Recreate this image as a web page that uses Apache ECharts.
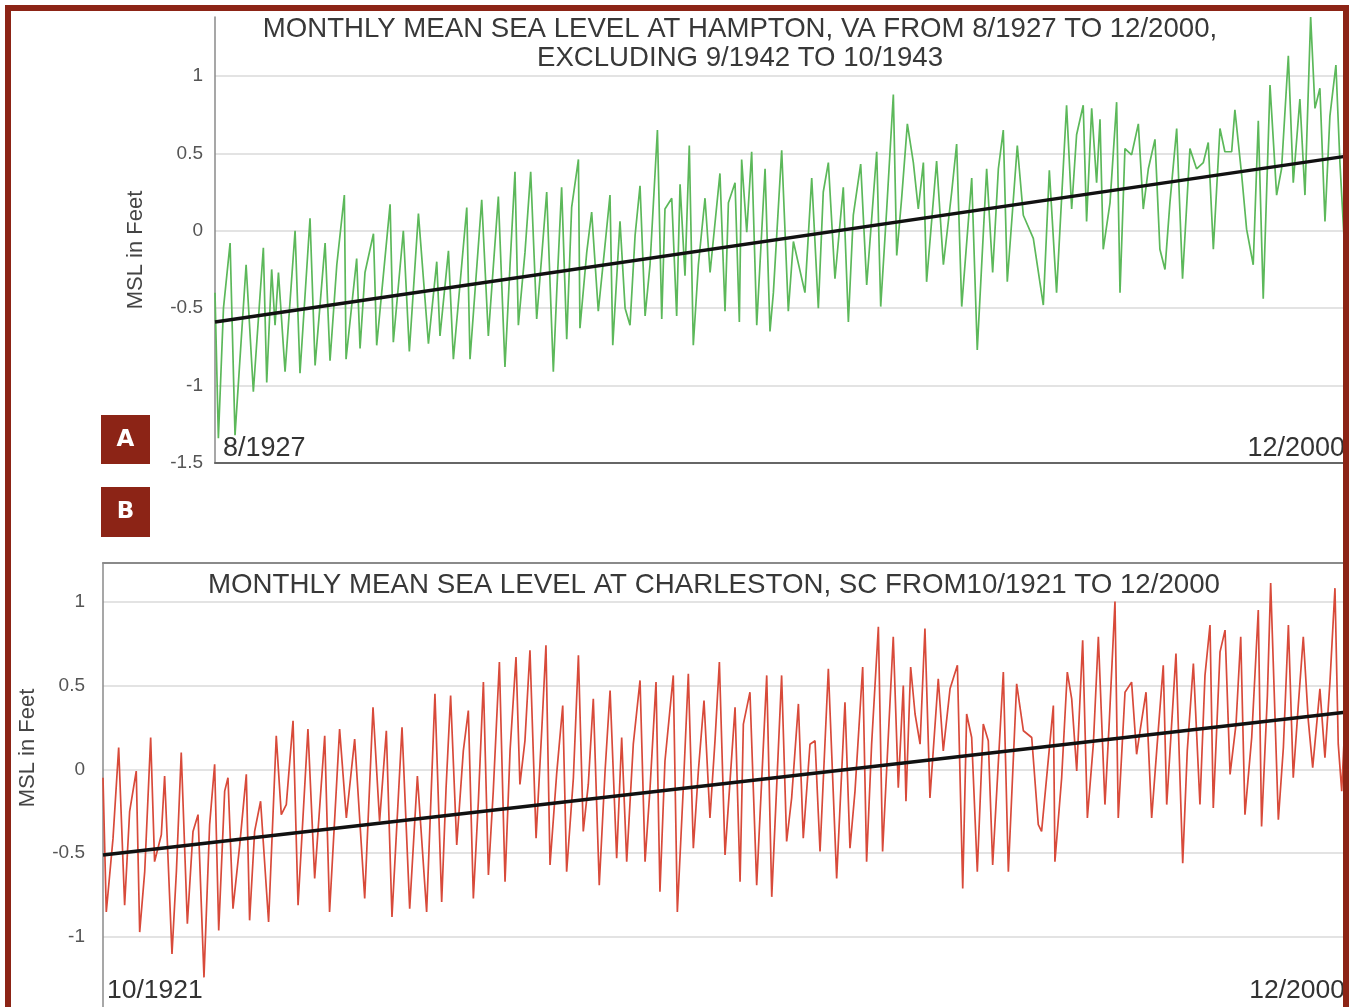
<!DOCTYPE html>
<html>
<head>
<meta charset="utf-8">
<script src="https://cdn.jsdelivr.net/npm/echarts@6/dist/echarts.min.js"></script>
<style>
html,body{margin:0;padding:0;background:#fff;overflow:hidden}
#c{position:absolute;left:0;top:0;width:1350px;height:1007px}
#frame{position:absolute;left:5px;top:5px;width:1332px;height:1030px;border:6px solid #8c2416;pointer-events:none;z-index:10}
</style>
</head>
<body>
<div id="c"></div>
<div id="frame"></div>
<script>
// ---------- Panel A : Hampton, VA ----------
const hamptonTitle = ['MONTHLY MEAN SEA LEVEL AT HAMPTON, VA FROM 8/1927 TO 12/2000,', 'EXCLUDING 9/1942 TO 10/1943'];
const hamptonTickYears = [1927.58, 2000.96];
const hamptonTickLabels = ['8/1927', '12/2000'];
const hamptonYears = [
1927.58,1927.80,1928.13,1928.56,1928.88,1929.60,1930.07,1930.72,1930.94,1931.26,1931.48,1931.70,1932.13,1932.78,1933.10,1933.75,
1934.08,1934.73,1935.05,1935.49,1935.98,1936.09,1936.78,1937.00,1937.32,1937.87,1938.08,1938.95,1939.16,1939.81,1940.20,1940.79,
1941.44,1941.98,1942.19,1942.74,1943.06,1943.93,1944.14,1944.90,1945.33,1945.98,1946.41,1946.74,1947.06,1947.28,1947.71,1948.08,
1948.47,1948.80,1949.12,1949.55,1949.77,1950.09,1950.42,1950.74,1951.18,1951.28,1951.72,1952.04,1952.47,1952.91,1953.23,1953.41,
1953.88,1954.21,1954.53,1954.86,1955.18,1955.51,1955.83,1956.31,1956.59,1956.80,1957.24,1957.56,1957.78,1958.10,1958.38,1958.64,
1958.97,1959.40,1959.73,1960.37,1960.70,1960.92,1961.35,1961.63,1961.78,1962.11,1962.43,1962.76,1963.30,1963.62,1963.84,1964.38,
1964.81,1965.14,1965.89,1966.33,1966.76,1967.08,1967.41,1967.84,1968.38,1968.71,1969.03,1969.51,1969.90,1970.55,1970.81,1971.20,
1971.63,1971.85,1972.17,1972.54,1972.93,1973.25,1973.58,1973.79,1974.44,1974.88,1975.42,1975.74,1976.07,1976.72,1977.08,1977.69,
1978.08,1978.45,1978.77,1979.03,1979.68,1980.07,1980.72,1981.37,1981.76,1982.23,1982.88,1983.21,1983.53,1983.96,1984.18,1984.51,
1984.83,1985.05,1985.26,1985.70,1986.13,1986.35,1986.67,1987.10,1987.54,1987.86,1988.19,1988.62,1988.94,1989.27,1989.59,1990.03,
1990.41,1990.89,1991.32,1991.76,1992.08,1992.41,1992.84,1993.16,1993.60,1993.81,1994.25,1994.57,1995.00,1995.33,1995.65,1996.09,
1996.52,1996.84,1997.28,1997.60,1998.03,1998.36,1998.73,1999.01,1999.33,1999.66,1999.98,2000.37,2000.63,2000.96
];
const hamptonValues = [
-0.40,-1.34,-0.50,-0.08,-1.32,-0.22,-1.04,-0.11,-0.98,-0.25,-0.61,-0.27,-0.91,0.00,-0.92,0.08,
-0.87,-0.08,-0.84,-0.22,0.23,-0.83,-0.18,-0.76,-0.27,-0.02,-0.74,0.17,-0.72,0.00,-0.78,0.11,
-0.73,-0.20,-0.68,-0.13,-0.83,0.15,-0.83,0.20,-0.68,0.22,-0.88,-0.22,0.38,-0.61,-0.14,0.38,
-0.57,-0.16,0.25,-0.91,-0.40,0.28,-0.70,0.15,0.46,-0.63,-0.14,0.12,-0.52,-0.09,0.23,-0.74,
0.06,-0.50,-0.61,-0.03,0.29,-0.55,-0.22,0.65,-0.57,0.14,0.21,-0.55,0.30,-0.29,0.55,-0.74,
-0.22,0.21,-0.27,0.37,-0.52,0.18,0.31,-0.59,0.46,-0.01,0.51,-0.61,0.40,-0.65,-0.40,0.52,
-0.52,-0.07,-0.40,0.34,-0.50,0.25,0.44,-0.31,0.28,-0.59,0.10,0.43,-0.35,0.51,-0.49,0.14,
0.88,-0.16,0.21,0.69,0.44,0.14,0.44,-0.33,0.45,-0.22,0.25,0.56,-0.49,0.34,-0.77,0.40,
-0.27,0.40,0.65,-0.33,0.55,0.10,-0.05,-0.48,0.39,-0.40,0.81,0.14,0.62,0.81,0.06,0.79,
0.31,0.72,-0.12,0.18,0.83,-0.40,0.53,0.49,0.69,0.14,0.40,0.59,-0.12,-0.25,0.18,0.66,
-0.31,0.53,0.40,0.44,0.57,-0.12,0.66,0.51,0.51,0.78,0.36,0.01,-0.22,0.71,-0.44,0.94,
0.23,0.40,1.13,0.31,0.85,0.23,1.38,0.79,0.92,0.06,0.74,1.07,0.44,-0.16
];
const hamptonTrend = [-0.59, 0.48];

// ---------- Panel B : Charleston, SC ----------
const charlestonTitle = 'MONTHLY MEAN SEA LEVEL AT CHARLESTON, SC FROM10/1921 TO 12/2000';
const charlestonTickYears = [1921.75, 2000.96];
const charlestonTickLabels = ['10/1921', '12/2000'];
const charlestonYears = [
1921.75,1921.96,1922.39,1922.75,1923.13,1923.45,1923.87,1924.09,1924.41,1924.79,1925.04,1925.47,1925.68,1926.15,1926.43,1926.74,
1927.13,1927.49,1927.81,1928.19,1928.55,1928.87,1929.13,1929.51,1929.72,1930.04,1930.47,1930.89,1931.10,1931.42,1931.80,1932.31,
1932.80,1933.12,1933.44,1933.87,1934.19,1934.82,1935.25,1935.89,1936.20,1936.84,1937.27,1937.80,1938.44,1938.97,1939.39,1939.82,
1940.18,1940.82,1941.31,1941.80,1942.39,1942.92,1943.35,1943.63,1943.92,1944.31,1944.73,1945.05,1945.37,1945.69,1946.01,1946.33,
1946.64,1947.03,1947.39,1947.71,1948.09,1948.34,1948.66,1948.98,1949.37,1949.73,1950.00,1950.26,1950.68,1951.07,1951.32,1951.75,
1952.07,1952.38,1952.70,1953.02,1953.40,1953.77,1954.09,1954.51,1954.83,1955.15,1955.57,1956.00,1956.32,1956.64,1957.02,1957.27,
1957.59,1958.12,1958.38,1958.76,1959.08,1959.40,1959.72,1960.08,1960.46,1960.78,1961.06,1961.42,1962.06,1962.38,1962.59,1963.01,
1963.44,1964.08,1964.40,1965.03,1965.35,1965.67,1966.10,1966.41,1966.84,1967.16,1967.48,1968.01,1968.54,1969.07,1969.39,1969.71,
1970.20,1970.45,1970.77,1971.20,1971.47,1972.15,1972.47,1972.79,1972.96,1973.26,1973.54,1973.86,1974.17,1974.49,1975.02,1975.34,
1975.77,1976.24,1976.58,1976.83,1977.15,1977.51,1977.89,1978.21,1978.49,1979.17,1979.49,1980.02,1980.45,1980.98,1981.40,1981.61,
1982.36,1982.46,1982.89,1983.25,1983.53,1983.85,1984.23,1984.53,1984.91,1985.23,1985.65,1985.93,1986.29,1986.50,1986.93,1987.35,
1987.67,1987.89,1988.27,1988.63,1988.95,1989.37,1989.59,1990.18,1990.61,1990.90,1991.29,1991.71,1992.03,1992.35,1992.56,1992.99,
1993.31,1993.63,1994.01,1994.31,1994.58,1995.01,1995.43,1995.64,1996.01,1996.22,1996.71,1997.03,1997.35,1997.66,1997.98,1998.30,
1998.62,1998.90,1999.36,1999.68,2000.00,2000.32,2000.53,2000.75,2000.96
];
const charlestonValues = [
-0.05,-0.85,-0.41,0.13,-0.81,-0.25,-0.01,-0.97,-0.61,0.19,-0.55,-0.39,-0.04,-1.10,-0.61,0.10,
-0.92,-0.37,-0.27,-1.24,-0.33,0.03,-0.96,-0.13,-0.05,-0.83,-0.45,-0.03,-0.90,-0.37,-0.19,-0.91,
0.20,-0.27,-0.21,0.29,-0.81,0.24,-0.65,0.20,-0.85,0.24,-0.29,0.18,-0.77,0.37,-0.31,0.23,
-0.88,0.25,-0.83,-0.04,-0.85,0.45,-0.79,-0.11,0.44,-0.45,0.11,0.35,-0.77,-0.19,0.52,-0.63,
-0.13,0.64,-0.67,0.11,0.67,-0.09,0.17,0.71,-0.41,0.23,0.74,-0.57,-0.03,0.38,-0.61,-0.05,
0.68,-0.37,-0.09,0.42,-0.69,-0.01,0.47,-0.53,0.19,-0.55,0.15,0.53,-0.55,-0.11,0.52,-0.73,
0.05,0.56,-0.85,-0.11,0.57,-0.47,-0.01,0.41,-0.29,0.17,0.64,-0.51,0.37,-0.67,0.27,0.46,
-0.69,0.56,-0.76,0.56,-0.43,-0.17,0.39,-0.41,0.15,0.17,-0.49,0.60,-0.65,0.40,-0.47,-0.13,
0.61,-0.55,0.15,0.85,-0.49,0.79,-0.11,0.50,-0.19,0.61,0.33,0.15,0.84,-0.17,0.54,0.11,
0.48,0.62,-0.71,0.33,0.19,-0.61,0.27,0.17,-0.57,0.58,-0.61,0.51,0.23,0.19,-0.33,-0.37,
0.38,-0.55,-0.05,0.58,0.42,-0.01,0.77,-0.29,0.15,0.79,-0.21,0.29,1.00,-0.29,0.46,0.52,
0.09,0.23,0.46,-0.29,0.11,0.62,-0.21,0.69,-0.56,0.11,0.63,-0.21,0.56,0.86,-0.23,0.70,
0.83,-0.03,0.27,0.79,-0.27,0.19,0.95,-0.34,0.44,1.11,-0.30,0.13,0.86,-0.05,0.38,0.79,
0.29,0.01,0.48,0.07,0.52,1.08,0.15,-0.13,0.29
];
const charlestonTrend = [-0.51, 0.34];

const FONT = '"Liberation Sans", Arial, sans-serif';
const pairs = (xs, ys) => xs.map((x, i) => [x, ys[i]]);
const tickFmt = (years, labels) => (v) => {
  const i = years.findIndex(y => Math.abs(y - v) < 1e-6);
  return i >= 0 ? labels[i] : '';
};

const chart = echarts.init(document.getElementById('c'), null, {renderer: 'canvas'});

const yAxisCommon = {
  type: 'value',
  interval: 0.5,
  min: -1.5,
  axisTick: {show: false},
  axisLine: {show: true, onZero: false, lineStyle: {color: '#8a8a8a', width: 1.5}},
  splitLine: {show: true, showMaxLine: false, showMinLine: false, lineStyle: {color: '#dadada', width: 1.5}},
  axisLabel: {showMaxLabel: false, fontFamily: FONT, fontSize: 19, color: '#555'}
};

const option = {
  animation: false,
  backgroundColor: '#fff',
  title: [
    {text: hamptonTitle.join('\n'), left: 740, top: 15, textAlign: 'center', padding: 0,
     textStyle: {fontFamily: FONT, fontSize: 27.6, fontWeight: 'normal', color: '#383838', lineHeight: 29}},
    {text: charlestonTitle, left: 714, top: 571, textAlign: 'center', padding: 0,
     textStyle: {fontFamily: FONT, fontSize: 27.7, fontWeight: 'normal', color: '#383838', lineHeight: 28}}
  ],
  grid: [
    {left: 215, top: 17, width: 1130, height: 446, outerBoundsMode: 'none'},
    {left: 103, top: 563, width: 1242, height: 458, outerBoundsMode: 'none'}
  ],
  xAxis: [
    {gridIndex: 0, type: 'value', min: hamptonTickYears[0], max: hamptonTickYears[1],
     axisLine: {show: true, onZero: false, lineStyle: {color: '#666', width: 2}}, axisTick: {show: false}, splitLine: {show: false},
     axisLabel: {customValues: hamptonTickYears, inside: true, margin: 1, alignMinLabel: 'left', alignMaxLabel: 'right',
       formatter: tickFmt(hamptonTickYears, hamptonTickLabels), fontFamily: FONT, fontSize: 27, color: '#333', padding: [0, 0, 0, 8]}},
    {gridIndex: 1, type: 'value', min: charlestonTickYears[0], max: charlestonTickYears[1],
     axisLine: {show: false, onZero: false}, axisTick: {show: false}, splitLine: {show: false},
     axisLabel: {customValues: charlestonTickYears, inside: true, margin: 17, alignMinLabel: 'left', alignMaxLabel: 'right',
       formatter: tickFmt(charlestonTickYears, charlestonTickLabels), fontFamily: FONT, fontSize: 26.5, color: '#333', padding: [0, 0, 0, 4]}},
    {gridIndex: 1, type: 'value', position: 'top', min: charlestonTickYears[0], max: charlestonTickYears[1],
     axisLine: {show: true, onZero: false, lineStyle: {color: '#8a8a8a', width: 2}}, axisTick: {show: false}, splitLine: {show: false},
     axisLabel: {show: false}}
  ],
  yAxis: [
    Object.assign({}, yAxisCommon, {gridIndex: 0, max: 1.38, axisLabel: Object.assign({}, yAxisCommon.axisLabel, {margin: 12})}),
    Object.assign({}, yAxisCommon, {gridIndex: 1, max: 1.23, axisLabel: Object.assign({}, yAxisCommon.axisLabel, {margin: 18})})
  ],
  series: [
    {type: 'line', xAxisIndex: 0, yAxisIndex: 0, data: pairs(hamptonYears, hamptonValues), showSymbol: false,
     lineStyle: {color: '#5cb85a', width: 1.7}, itemStyle: {color: '#5cb85a'}, z: 2},
    {type: 'line', xAxisIndex: 0, yAxisIndex: 0, data: pairs(hamptonTickYears, hamptonTrend), showSymbol: false,
     lineStyle: {color: '#111', width: 3.5}, z: 3},
    {type: 'line', xAxisIndex: 1, yAxisIndex: 1, data: pairs(charlestonYears, charlestonValues), showSymbol: false,
     lineStyle: {color: '#d84a3a', width: 1.7}, itemStyle: {color: '#d84a3a'}, z: 2},
    {type: 'line', xAxisIndex: 1, yAxisIndex: 1, data: pairs(charlestonTickYears, charlestonTrend), showSymbol: false,
     lineStyle: {color: '#111', width: 3.5}, z: 3}
  ],
  graphic: [
    {type: 'text', x: 136, y: 250, rotation: Math.PI / 2,
     style: {text: 'MSL in Feet', align: 'center', verticalAlign: 'middle', textAlign: 'center', textVerticalAlign: 'middle',
       font: '22px "Liberation Sans", Arial, sans-serif', fill: '#444'}},
    {type: 'text', x: 28, y: 748, rotation: Math.PI / 2,
     style: {text: 'MSL in Feet', align: 'center', verticalAlign: 'middle', textAlign: 'center', textVerticalAlign: 'middle',
       font: '22px "Liberation Sans", Arial, sans-serif', fill: '#444'}},
    {type: 'rect', shape: {x: 101, y: 415, width: 49, height: 49}, style: {fill: '#8c2416'}},
    {type: 'text', x: 125.5, y: 440,
     style: {text: 'A', align: 'center', verticalAlign: 'middle', textAlign: 'center', textVerticalAlign: 'middle',
       font: 'bold 23px "DejaVu Sans", sans-serif', fill: '#fff'}},
    {type: 'rect', shape: {x: 101, y: 487, width: 49, height: 50}, style: {fill: '#8c2416'}},
    {type: 'text', x: 125.5, y: 512,
     style: {text: 'B', align: 'center', verticalAlign: 'middle', textAlign: 'center', textVerticalAlign: 'middle',
       font: 'bold 23px "DejaVu Sans", sans-serif', fill: '#fff'}}
  ]
};
chart.setOption(option);
</script>
</body>
</html>
